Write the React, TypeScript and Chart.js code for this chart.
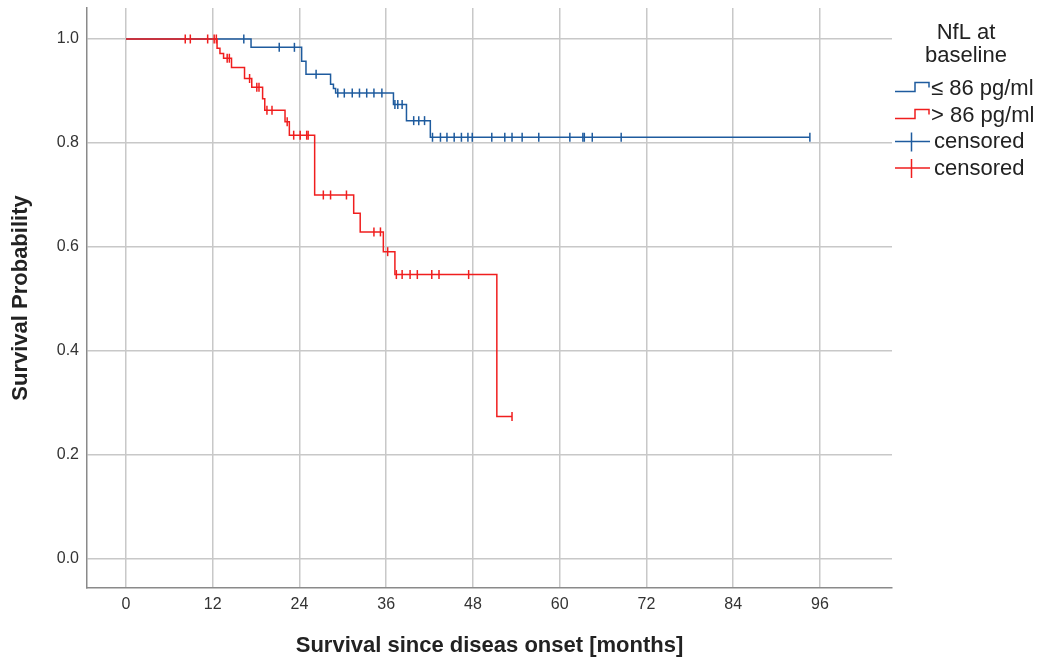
import React, { useEffect, useRef } from 'react';
import { Chart, registerables } from 'chart.js';

Chart.register(...registerables);

// ---- Data ----
const xTickValues = [0, 12, 24, 36, 48, 60, 72, 84, 96];
const yTickValues = [0, 0.2, 0.4, 0.6, 0.8, 1.0];

// NfL <= 86 pg/ml (blue)
const lowTimes = [0, 17.3, 24.3, 24.9, 28.3, 28.7, 29.0, 37.0, 38.8, 42.1, 94.6];
const lowSurv = [1.0, 0.984, 0.957, 0.932, 0.913, 0.905, 0.896, 0.874, 0.843, 0.811, 0.811];
const lowCensored = [
  16.3, 21.2, 23.3, 26.3, 29.3, 30.2, 31.3, 32.3, 33.3, 34.3, 35.4, 37.2, 37.6, 38.2,
  39.8, 40.5, 41.3, 42.4, 43.5, 44.4, 45.4, 46.4, 47.3, 47.9, 50.6, 52.4, 53.4, 54.8,
  57.1, 61.4, 63.2, 63.4, 64.5, 68.5, 94.6,
];

// NfL > 86 pg/ml (red)
const highTimes = [0, 12.6, 13.0, 13.5, 14.6, 16.4, 17.4, 18.9, 19.2, 22.0, 22.6, 26.1, 31.5, 32.4, 35.6, 37.2, 51.3, 53.4];
const highSurv = [1.0, 0.982, 0.972, 0.963, 0.945, 0.924, 0.907, 0.885, 0.863, 0.841, 0.815, 0.7, 0.665, 0.629, 0.591, 0.547, 0.274, 0.274];
const highCensored = [
  8.2, 8.9, 11.3, 12.2, 12.5, 14.0, 14.3, 17.1, 18.1, 18.4, 19.5, 20.2, 22.3, 23.2, 24.1,
  25.0, 25.2, 27.3, 28.3, 30.5, 34.3, 35.2, 36.2, 37.4, 38.2, 39.3, 40.3, 42.3, 43.3, 47.4, 53.4,
];

const legendTitle = ['NfL at', 'baseline'];
const legendLabels = ['\u2264 86 pg/ml', '> 86 pg/ml', 'censored', 'censored'];
const xTitle = 'Survival since diseas onset [months]';
const yTitle = 'Survival Probability';

const BLUE = '#1e5b9e';
const RED = '#f01e1e';

function survAt(times: number[], surv: number[], t: number): number {
  let v = surv[0];
  for (let i = 0; i < times.length; i++) {
    if (times[i] <= t) v = surv[i];
  }
  return v;
}

const legendPlugin = {
  id: 'kmLegend',
  afterDraw(chart: any) {
    const ctx = chart.ctx as CanvasRenderingContext2D;
    ctx.save();
    ctx.fillStyle = '#222';
    ctx.font = '22px "Liberation Sans", Arial, sans-serif';
    ctx.textAlign = 'center';
    ctx.textBaseline = 'alphabetic';
    ctx.fillText(legendTitle[0], 966, 39);
    ctx.fillText(legendTitle[1], 966, 62);

    ctx.lineWidth = 1.5;
    const stepIcon = (color: string, yLow: number) => {
      ctx.strokeStyle = color;
      ctx.beginPath();
      ctx.moveTo(895, yLow);
      ctx.lineTo(915, yLow);
      ctx.lineTo(915, yLow - 9);
      ctx.lineTo(929, yLow - 9);
      ctx.lineTo(929, yLow - 4);
      ctx.stroke();
    };
    stepIcon(BLUE, 91.5);
    stepIcon(RED, 118.5);
    const censorIcon = (color: string, y: number) => {
      ctx.strokeStyle = color;
      ctx.beginPath();
      ctx.moveTo(895, y);
      ctx.lineTo(930, y);
      ctx.moveTo(911.5, y - 9);
      ctx.lineTo(911.5, y + 10);
      ctx.stroke();
    };
    censorIcon(BLUE, 141.5);
    censorIcon(RED, 168);

    ctx.textAlign = 'left';
    ctx.fillText(legendLabels[0], 931, 95);
    ctx.fillText(legendLabels[1], 931, 122);
    ctx.fillText(legendLabels[2], 934, 148);
    ctx.fillText(legendLabels[3], 934, 175);
    ctx.restore();
  },
};

export default function App() {
  const canvasRef = useRef<HTMLCanvasElement | null>(null);

  useEffect(() => {
    document.body.style.margin = '0';
    const canvas = canvasRef.current;
    if (!canvas) return;

    const lowLine = lowTimes.map((t, i) => ({ x: t, y: lowSurv[i] }));
    const highLine = highTimes.map((t, i) => ({ x: t, y: highSurv[i] }));
    const lowCens = lowCensored.map((t) => ({ x: t, y: survAt(lowTimes, lowSurv, t) }));
    const highCens = highCensored.map((t) => ({ x: t, y: survAt(highTimes, highSurv, t) }));

    const censorStyle = {
      showLine: false,
      pointStyle: 'line',
      rotation: 90,
      pointRadius: 4.5,
      pointHoverRadius: 4.5,
      pointBorderWidth: 1.5,
    };

    const chart = new Chart(canvas, {
      type: 'line',
      data: {
        datasets: [
          { label: 'censored high', data: highCens, borderColor: RED, backgroundColor: RED, order: 0, ...censorStyle } as any,
          { label: 'censored low', data: lowCens, borderColor: BLUE, backgroundColor: BLUE, order: 1, ...censorStyle } as any,
          {
            label: '> 86 pg/ml', data: highLine, borderColor: RED, borderWidth: 1.5,
            pointRadius: 0, stepped: 'before', fill: false, order: 2,
          } as any,
          {
            label: '<= 86 pg/ml', data: lowLine, borderColor: BLUE, borderWidth: 1.5,
            pointRadius: 0, stepped: 'before', fill: false, order: 3,
          } as any,
        ],
      },
      options: {
        responsive: false,
        animation: false,
        devicePixelRatio: 1,
        layout: { padding: { left: 0, right: 148, top: 8, bottom: 0 } },
        plugins: { legend: { display: false }, tooltip: { enabled: false } },
        scales: {
          x: {
            type: 'linear',
            min: -5.39,
            max: 105.96,
            afterBuildTicks: (s: any) => { s.ticks = xTickValues.map((v) => ({ value: v })); },
            afterFit: (s: any) => { s.height = 71; s.paddingLeft = 0; s.paddingRight = 0; },
            grid: { color: '#c8c8c8', lineWidth: 1.5, drawTicks: false },
            border: { color: '#8a8a8a', width: 1.5 },
            ticks: {
              color: '#333',
              padding: 7,
              font: { family: '"Liberation Sans Narrow", "Liberation Sans", Arial, sans-serif', size: 16 },
              callback: (v: any) => String(v),
            },
            title: {
              display: true,
              text: xTitle,
              color: '#222',
              font: { family: '"Liberation Sans", Arial, sans-serif', size: 22, weight: 'bold' },
              padding: { top: 0, bottom: 0 },
            },
          },
          y: {
            type: 'linear',
            min: -0.0558,
            max: 1.0596,
            afterBuildTicks: (s: any) => { s.ticks = yTickValues.map((v) => ({ value: v })); },
            afterFit: (s: any) => { s.width = 87; s.paddingTop = 0; s.paddingBottom = 0; },
            grid: { color: '#c8c8c8', lineWidth: 1.5, drawTicks: false },
            border: { color: '#8a8a8a', width: 1.5 },
            ticks: {
              color: '#333',
              padding: 8,
              font: { family: '"Liberation Sans", Arial, sans-serif', size: 16 },
              callback: (v: any) => Number(v).toFixed(1),
            },
            title: {
              display: true,
              text: yTitle,
              color: '#222',
              font: { family: '"Liberation Sans", Arial, sans-serif', size: 22, weight: 'bold' },
              padding: { top: 8, bottom: 0 },
            },
          },
        },
      } as any,
      plugins: [legendPlugin],
    });

    return () => chart.destroy();
  }, []);

  return (
    <div style={{ width: 1040, height: 659, background: '#fff' }}>
      <canvas ref={canvasRef} width={1040} height={659} style={{ display: 'block', width: 1040, height: 659 }} />
    </div>
  );
}
